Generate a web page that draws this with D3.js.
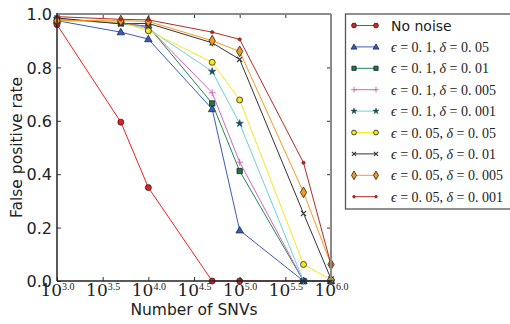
<!DOCTYPE html>
<html>
<head>
<meta charset="utf-8">
<script src="https://cdn.jsdelivr.net/npm/d3@7"></script>
<style>
  html, body { margin: 0; padding: 0; background: #fff; }
  svg { display: block; }
</style>
</head>
<body>
<div id="chart"></div>
<script>
// Number of SNVs (x) for every series
const snvCounts = [1000, 5000, 10000, 50000, 100000, 500000, 1000000];
const xTickExps = ['3.0', '3.5', '4.0', '4.5', '5.0', '5.5', '6.0'];
const yTicks = [0, 0.2, 0.4, 0.6, 0.8, 1.0];

// False positive rate per setting
const noNoise      = [0.96, 0.595, 0.35, 0, 0, 0, 0];
const e01d005      = [0.975, 0.932, 0.906, 0.644, 0.19, 0, 0];
const e01d001      = [0.98, 0.965, 0.954, 0.665, 0.412, 0, 0];
const e01d0005     = [0.98, 0.968, 0.95, 0.705, 0.445, 0, 0];
const e01d0001     = [0.982, 0.965, 0.945, 0.785, 0.59, 0, 0];
const e005d005     = [0.975, 0.97, 0.937, 0.819, 0.678, 0.062, 0.005];
const e005d001     = [0.985, 0.963, 0.965, 0.892, 0.83, 0.253, 0.008];
const e005d0005    = [0.975, 0.975, 0.972, 0.9, 0.86, 0.332, 0.062];
const e005d0001    = [0.99, 0.98, 0.978, 0.932, 0.905, 0.443, 0.062];

const series = [
    { name: 'No noise', eps: null, delta: null, values: noNoise, color: '#ee2222', marker: 'circle', fill: '#e02020' },
    { name: 'eps=0.1 delta=0.05', eps: '0. 1', delta: '0. 05', values: e01d005, color: '#3a5bb8', marker: 'triangle', fill: '#3a5bb8' },
    { name: 'eps=0.1 delta=0.01', eps: '0. 1', delta: '0. 01', values: e01d001, color: '#1e8a4a', marker: 'square', fill: '#1e7a40' },
    { name: 'eps=0.1 delta=0.005', eps: '0. 1', delta: '0. 005', values: e01d0005, color: '#cc66c4', marker: 'plus', fill: '#cc66c4' },
    { name: 'eps=0.1 delta=0.001', eps: '0. 1', delta: '0. 001', values: e01d0001, color: '#6ccfe0', marker: 'star', fill: '#1e4a5a' },
    { name: 'eps=0.05 delta=0.05', eps: '0. 05', delta: '0. 05', values: e005d005, color: '#f8e81c', marker: 'circle', fill: '#f8e81c' },
    { name: 'eps=0.05 delta=0.01', eps: '0. 05', delta: '0. 01', values: e005d001, color: '#333333', marker: 'x', fill: '#333333' },
    { name: 'eps=0.05 delta=0.005', eps: '0. 05', delta: '0. 005', values: e005d0005, color: '#f7991c', marker: 'diamond', fill: '#f7991c' },
    { name: 'eps=0.05 delta=0.001', eps: '0. 05', delta: '0. 001', values: e005d0001, color: '#b22a2a', marker: 'dot', fill: '#b22a2a' }
];

const width = 510;
const height = 324;
const plot = { left: 57, right: 331, top: 14, bottom: 281 };

const x = d3.scaleLog().domain([1000, 1000000]).range([plot.left, plot.right]);
const y = d3.scaleLinear().domain([0, 1]).range([plot.bottom, plot.top]);

const svg = d3.select('#chart').append('svg')
    .attr('width', width)
    .attr('height', height);

// draw one marker into a group, centred at 0,0
function drawMarker(g, s, k) {
    const edge = '#222';
    if (s.marker === 'circle') {
        g.append('circle').attr('r', 3 * k).attr('fill', s.fill).attr('stroke', edge).attr('stroke-width', 0.8);
    } else if (s.marker === 'dot') {
        g.append('circle').attr('r', 1.7 * k).attr('fill', s.fill).attr('stroke', '#7a1515').attr('stroke-width', 0.5);
    } else if (s.marker === 'triangle') {
        g.append('path').attr('d', d3.symbol(d3.symbolTriangle, 24 * k * k)()).attr('transform', 'translate(0,0.5)')
            .attr('fill', s.fill).attr('stroke', '#1a2a5a').attr('stroke-width', 0.8);
    } else if (s.marker === 'square') {
        g.append('path').attr('d', d3.symbol(d3.symbolSquare, 28 * k * k)())
            .attr('fill', s.fill).attr('stroke', '#123').attr('stroke-width', 0.8);
    } else if (s.marker === 'diamond') {
        g.append('path').attr('d', d3.symbol(d3.symbolDiamond, 34 * k * k)())
            .attr('fill', s.fill).attr('stroke', edge).attr('stroke-width', 0.8);
    } else if (s.marker === 'star') {
        g.append('path').attr('d', d3.symbol(d3.symbolStar, 18 * k * k)())
            .attr('fill', s.fill).attr('stroke', s.fill).attr('stroke-width', 0.5);
    } else if (s.marker === 'plus') {
        const r = 3.5 * k;
        g.append('path').attr('d', `M${-r},0H${r}M0,${-r}V${r}`)
            .attr('stroke', s.fill).attr('stroke-width', 1);
    } else if (s.marker === 'x') {
        const r = 2.6 * k;
        g.append('path').attr('d', `M${-r},${-r}L${r},${r}M${-r},${r}L${r},${-r}`)
            .attr('stroke', s.fill).attr('stroke-width', 1.1);
    }
}

// lines and markers
const line = d3.line()
    .x(d => x(d[0]))
    .y(d => y(d[1]));

const plotG = svg.append('g');

series.forEach(s => {
    const pts = snvCounts.map((c, i) => [c, s.values[i]]);
    const g = plotG.append('g');
    g.append('path')
        .datum(pts)
        .attr('d', line)
        .attr('fill', 'none')
        .attr('stroke', s.color)
        .attr('stroke-width', 1);
    g.selectAll('.pt')
        .data(pts)
        .enter()
        .append('g')
        .attr('transform', d => `translate(${x(d[0])},${y(d[1])})`)
        .each(function () { drawMarker(d3.select(this), s, 1); });
});

// axes
const xTickVals = xTickExps.map(e => Math.pow(10, +e));

const xAxis = d3.axisBottom(x)
    .tickValues(xTickVals)
    .tickSizeInner(-4)
    .tickSizeOuter(0)
    .tickFormat(() => '');
const xAxisG = svg.append('g')
    .attr('transform', `translate(0,${plot.bottom})`)
    .call(xAxis);

xAxisG.selectAll('.tick')
    .append('text')
    .attr('y', 15)
    .attr('fill', '#222')
    .attr('text-anchor', 'middle')
    .each(function (d, i) {
        const t = d3.select(this);
        t.append('tspan').attr('font-size', 17).attr('font-family', '"DejaVu Serif", serif').text('10');
        t.append('tspan').attr('font-size', 10).attr('font-family', '"Liberation Serif", serif')
            .attr('dy', -6).text(xTickExps[i]);
    });

const yAxis = d3.axisLeft(y)
    .tickValues(yTicks)
    .tickSizeInner(-4)
    .tickSizeOuter(0)
    .tickPadding(5)
    .tickFormat(d3.format('.1f'));
const yAxisG = svg.append('g')
    .attr('transform', `translate(${plot.left},0)`)
    .call(yAxis);

yAxisG.selectAll('text')
    .attr('fill', '#222')
    .attr('dy', '0.36em')
    .style('font-family', '"DejaVu Sans", sans-serif')
    .style('font-size', '16px');

// inward ticks on top and right
svg.append('g')
    .attr('transform', `translate(0,${plot.top})`)
    .call(d3.axisTop(x).tickValues(xTickVals).tickSizeInner(-4).tickSizeOuter(0).tickFormat(() => ''));
svg.append('g')
    .attr('transform', `translate(${plot.right},0)`)
    .call(d3.axisRight(y).tickValues(yTicks).tickSizeInner(-4).tickSizeOuter(0).tickFormat(() => ''));

svg.selectAll('.domain').remove();
svg.selectAll('.tick line').attr('stroke', '#333').attr('stroke-width', 1);

// frame: dark left/bottom, grey top/right
svg.append('line').attr('x1', plot.left).attr('x2', plot.right).attr('y1', plot.top).attr('y2', plot.top)
    .attr('stroke', '#8a8a8a').attr('stroke-width', 2);
svg.append('line').attr('x1', plot.right).attr('x2', plot.right).attr('y1', plot.top).attr('y2', plot.bottom)
    .attr('stroke', '#8a8a8a').attr('stroke-width', 2);
svg.append('line').attr('x1', plot.left).attr('x2', plot.left).attr('y1', plot.top - 1).attr('y2', plot.bottom)
    .attr('stroke', '#222').attr('stroke-width', 1.5);
svg.append('line').attr('x1', plot.left).attr('x2', plot.right + 1).attr('y1', plot.bottom).attr('y2', plot.bottom)
    .attr('stroke', '#222').attr('stroke-width', 1.5);

// axis titles
svg.append('text')
    .attr('x', (plot.left + plot.right) / 2)
    .attr('y', 315)
    .attr('text-anchor', 'middle')
    .attr('fill', '#222')
    .style('font-family', '"DejaVu Sans", sans-serif')
    .style('font-size', '15.5px')
    .text('Number of SNVs');

svg.append('text')
    .attr('transform', `translate(22,${(plot.top + plot.bottom) / 2}) rotate(-90)`)
    .attr('text-anchor', 'middle')
    .attr('fill', '#222')
    .style('font-family', '"DejaVu Sans", sans-serif')
    .style('font-size', '15.5px')
    .text('False positive rate');

// legend
const legend = svg.append('g');
legend.append('rect')
    .attr('x', 345.5).attr('y', 14)
    .attr('width', 180).attr('height', 195)
    .attr('fill', '#fff')
    .attr('stroke', '#555')
    .attr('stroke-width', 1.3);

const rowY = i => 25.5 + i * 21.4;

series.forEach((s, i) => {
    const row = legend.append('g').attr('transform', `translate(0,${rowY(i)})`);
    row.append('line')
        .attr('x1', 354).attr('x2', 376)
        .attr('stroke', s.color).attr('stroke-width', 1);
    [354, 376].forEach(px => {
        drawMarker(row.append('g').attr('transform', `translate(${px},0)`), s, 0.8);
    });
    const t = row.append('text')
        .attr('x', 391)
        .attr('y', 5)
        .attr('fill', '#222');
    if (s.eps === null) {
        t.style('font-family', '"DejaVu Sans", sans-serif').style('font-size', '14px').text(s.name);
    } else {
        t.style('font-family', '"Liberation Serif", serif').style('font-size', '14px');
        t.append('tspan').attr('font-style', 'italic').text('ϵ');
        t.append('tspan').text(' = ' + s.eps + ', ');
        t.append('tspan').attr('font-style', 'italic').text('δ');
        t.append('tspan').text(' = ' + s.delta);
    }
});
</script>
</body>
</html>
